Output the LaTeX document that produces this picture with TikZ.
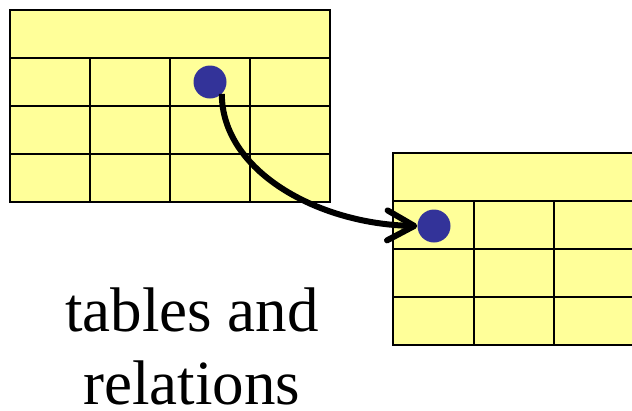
\documentclass[tikz,border=0pt]{standalone}
\usepackage{fontspec}
\setmainfont{Liberation Serif}
\usetikzlibrary{arrows.meta}
\definecolor{CellYellow}{RGB}{255,255,153}
\definecolor{DotBlue}{RGB}{51,51,153}

\begin{document}
\begin{tikzpicture}[x=1pt, y=-1pt]
        % Two tables linked by a relation
        \tikzset{
          cell/.style={draw=black, line width=1.5pt, fill=CellYellow},
          rule/.style={black, line width=1.5pt},
          key/.style={circle, fill=DotBlue, minimum size=33pt, inner sep=0},
          link/.style={black, line width=6pt, -{Straight Barb[length=27pt, width=30pt, round]}}
        }
        \useasboundingbox (0,0) rectangle (632,410);

        % Left table
        \draw[cell] (10,10) rectangle (330,202);
        \draw[rule] (10,58) -- (330,58) (10,106) -- (330,106) (10,154) -- (330,154);
        \draw[rule] (90,58) -- (90,202) (170,58) -- (170,202) (250,58) -- (250,202);

        % Right table
        \draw[cell] (393,153) rectangle (640,345);
        \draw[rule] (393,201) -- (640,201) (393,249) -- (640,249) (393,297) -- (640,297);
        \draw[rule] (474,201) -- (474,345) (554,201) -- (554,345) (634,201) -- (634,345);

        % Keys
        \node[key] (src) at (210,82) {};
        \node[key] (dst) at (434,226) {};

        % Relation
        \draw[link] (src.-45) .. controls +(0,77) and +(-100,-2) .. (dst.west);

        \node[font=\fontsize{63}{73}\selectfont, align=center, inner sep=0] (caption) at (192,346) {tables and\\relations};
      \end{tikzpicture}
\end{document}
